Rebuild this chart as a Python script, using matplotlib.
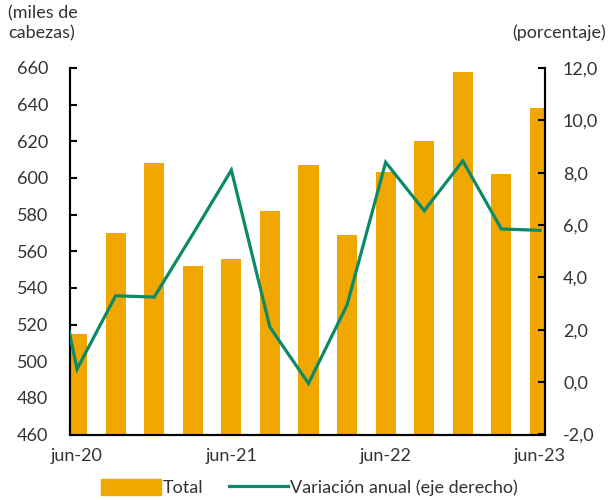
import matplotlib
matplotlib.use("Agg")
import matplotlib.pyplot as plt
import numpy as np
from matplotlib.patches import Patch
from matplotlib.lines import Line2D

# quarterly data, jun-20 .. jun-23
quarters = ["jun-20", "sep-20", "dic-20", "mar-21", "jun-21", "sep-21", "dic-21",
            "mar-22", "jun-22", "sep-22", "dic-22", "mar-23", "jun-23"]
total = [515, 570, 608, 552, 556, 582, 607, 569, 603, 620, 658, 602, 638]
# annual change incl. mar-20 (clipped at left edge)
variacion = [7.5, 0.5, 3.3, 3.25, 5.65, 8.1, 2.1, -0.05, 2.95, 8.4, 6.55, 8.45, 5.85, 5.8]
year_labels = ["jun-20", "jun-21", "jun-22", "jun-23"]

orange = "#F0A800"
green = "#0A8A68"

plt.rcParams["font.family"] = ["Lato", "DejaVu Sans"]
plt.rcParams["font.size"] = 13

fig = plt.figure(figsize=(6.13, 5.0), dpi=100)
ax = fig.add_axes([0.115, 0.131, 0.774, 0.733])
ax2 = ax.twinx()

offset = 0.17
x_bar = np.arange(len(total)) + offset
x_line = np.arange(-1, len(total)) + offset

ax.bar(x_bar, total, width=0.52, color=orange, zorder=2)
ax2.plot(x_line, variacion, color=green, lw=2.3, zorder=3, solid_joinstyle="miter")

ax.set_xlim(0, 12.3)
ax.set_ylim(460, 660)
ax.set_yticks(range(460, 661, 20))
ax2.set_ylim(-2, 12)
ax2.set_yticks(range(-2, 13, 2))
ax2.set_yticklabels([f"{v:.1f}".replace(".", ",") for v in range(-2, 13, 2)])

# labels under bars, tick marks at year boundaries
ax.set_xticks([0, 4, 8, 12], minor=True)
ax.set_xticks(x_bar[[0, 4, 8, 12]], year_labels)
ax.tick_params(axis="x", which="major", length=0, pad=10, labelcolor="#333333")
ax.tick_params(axis="x", which="minor", direction="in", length=5, width=1.5)
ax.tick_params(axis="y", direction="in", length=5, width=1.5, pad=16,
               labelcolor="#333333")
ax2.tick_params(axis="y", direction="in", length=5, width=1.5, pad=13,
                labelcolor="#333333")

for a in (ax, ax2):
    a.spines["top"].set_visible(False)
    for s in ("left", "right", "bottom"):
        a.spines[s].set_linewidth(1.5)

fig.text(0.013, 0.99, "(miles de\ncabezas)", ha="left", va="top",
         color="#333333", linespacing=1.3)
fig.text(0.988, 0.952, "(porcentaje)", ha="right", va="top", color="#333333")

handles = [Patch(color=orange, label="Total"),
           Line2D([], [], color=green, lw=2.3, label="Variación anual (eje derecho)")]
fig.legend(handles=handles, loc="lower center", bbox_to_anchor=(0.505, -0.025),
           ncol=2, frameon=False, handlelength=3.3, handleheight=1.0,
           handletextpad=0.1, columnspacing=1.4, labelcolor="#333333")

fig.savefig("out.png", dpi=100)
